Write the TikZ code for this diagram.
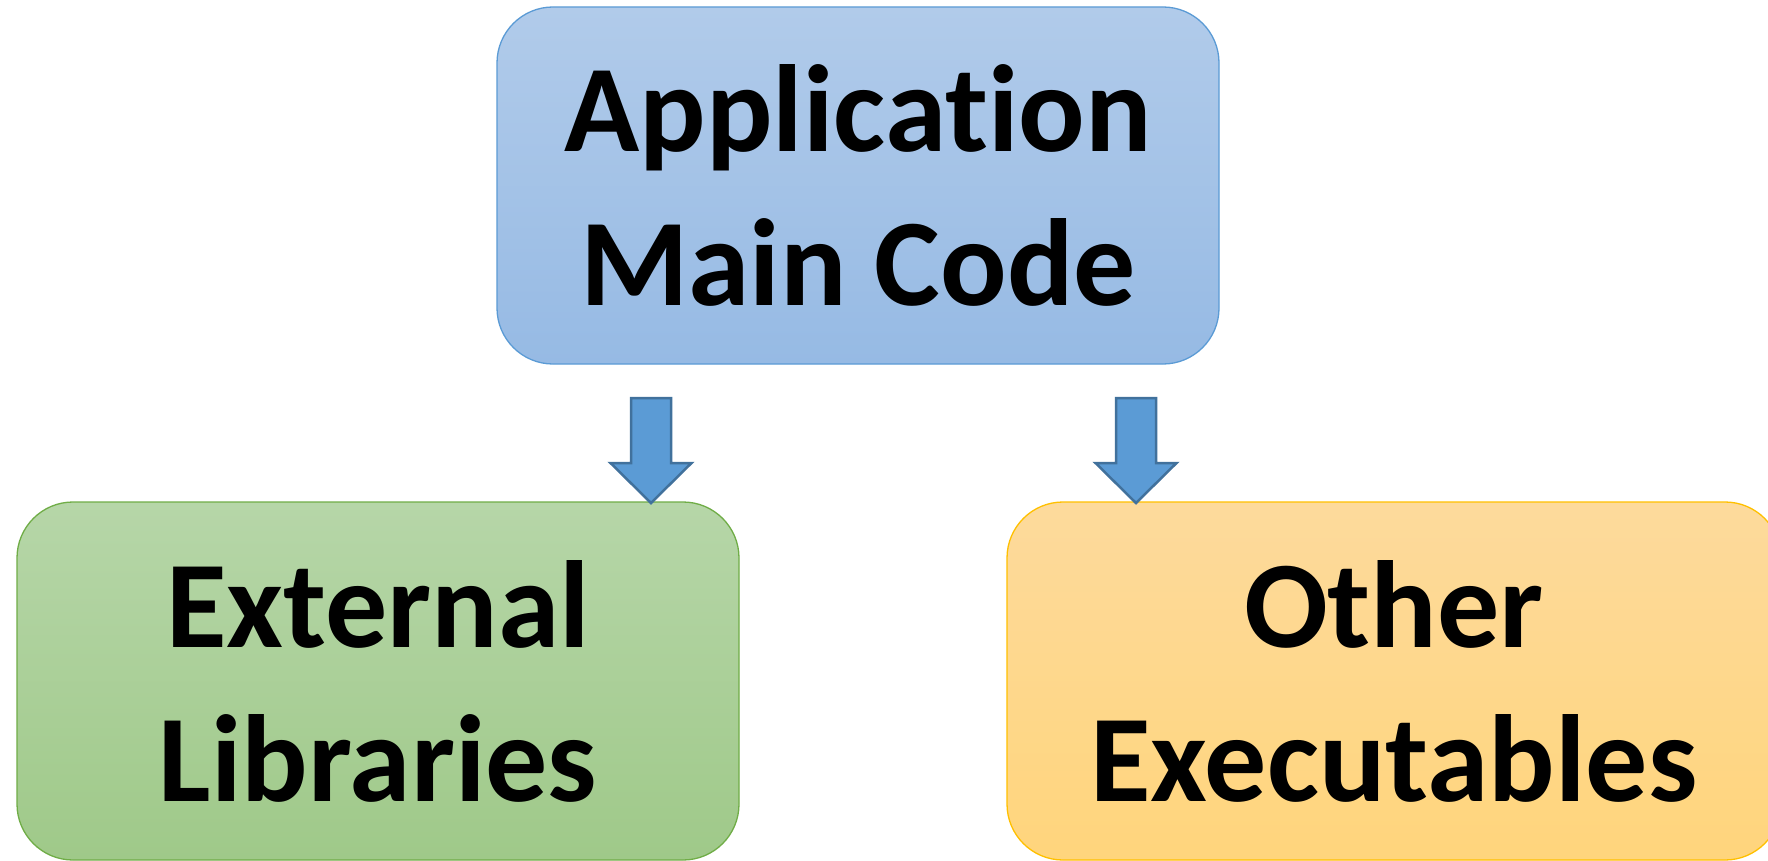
\documentclass[tikz,border=0pt]{standalone}
\usepackage{fontspec}
\setmainfont[Ligatures=NoCommon]{Carlito}
\definecolor{blueTop}{RGB}{177,203,234}
\definecolor{blueBot}{RGB}{150,186,228}
\definecolor{blueEdge}{RGB}{91,155,213}
\definecolor{greenTop}{RGB}{182,214,168}
\definecolor{greenBot}{RGB}{159,201,137}
\definecolor{greenEdge}{RGB}{112,173,71}
\definecolor{orangeTop}{RGB}{253,218,156}
\definecolor{orangeBot}{RGB}{255,213,124}
\definecolor{orangeEdge}{RGB}{255,192,0}
\definecolor{arrowFill}{RGB}{91,155,213}
\definecolor{arrowEdge}{RGB}{65,113,156}
\tikzset{
  block/.style={rectangle, rounded corners=56pt, inner sep=0pt, align=center,
    line width=1.3pt, font=\fontsize{124}{154}\selectfont\bfseries},
  appbox/.style={block, draw=blueEdge, top color=blueTop, bottom color=blueBot},
  libbox/.style={block, draw=greenEdge, top color=greenTop, bottom color=greenBot},
  exebox/.style={block, draw=orangeEdge, top color=orangeTop, bottom color=orangeBot},
  blockarrow/.style={draw=arrowEdge, fill=arrowFill, line width=2.5pt, line join=miter}
}
\begin{document}
\begin{tikzpicture}[x=1pt,y=-1pt]
\clip (0,0) rectangle (1768,861);
\fill[white] (0,0) rectangle (1768,861);

% three blocks
\node[appbox, minimum width=722pt, minimum height=357pt] (app) at (858,185.5) {Application\\Main Code};
\node[libbox, minimum width=722pt, minimum height=358pt] (lib) at (378,681) {External\\Libraries};
\node[exebox, minimum width=774pt, minimum height=358pt] (exe) at (1394,681) {Other\\Executables};

% block arrows pointing down onto the lower blocks
\coordinate (tipL) at (651,503);
\coordinate (tipR) at (1136,503);
\foreach \t in {tipL,tipR}{
  \draw[blockarrow] (\t) -- ++(-40.5,-40) -- ++(20.5,0) -- ++(0,-65) -- ++(40,0)
    -- ++(0,65) -- ++(20.5,0) -- cycle;
}
\end{tikzpicture}
\end{document}
